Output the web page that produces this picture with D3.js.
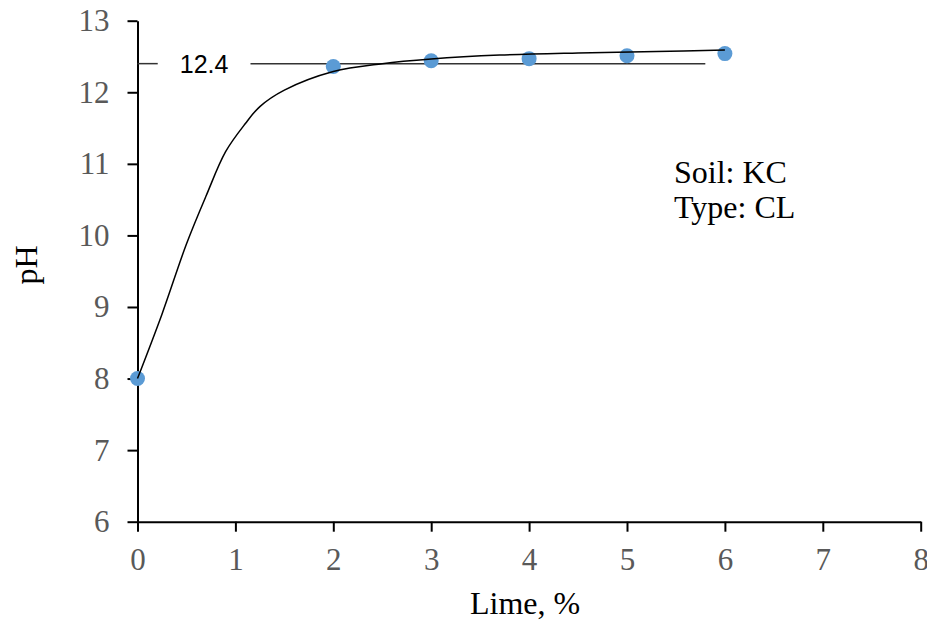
<!DOCTYPE html>
<html>
<head>
<meta charset="utf-8">
<script src="https://cdn.jsdelivr.net/npm/d3@7"></script>
<style>
  body { margin: 0; background: #fff; }
  .axis path, .axis line { stroke: #000; stroke-width: 2; }
  .axis text { font-family: "Liberation Serif", "Times New Roman", serif; font-size: 31px; fill: #595959; }
  .title { font-family: "Liberation Serif", "Times New Roman", serif; font-size: 32px; fill: #000; }
</style>
</head>
<body>
<svg class="svg-chart" width="927" height="628"></svg>
<script>
// measured points: lime content (%) vs pH
const limeContent = [0, 2, 3, 4, 5, 6];
const phValues = [8.0, 12.36, 12.44, 12.47, 12.51, 12.54];

// fitted trend curve
const trendLime = [0, 0.25, 0.5, 0.7, 0.9, 1.1, 1.25, 1.5, 2, 2.5, 3, 3.7, 4.5, 5.3, 6];
const trendPh = [8.0, 8.9, 9.88, 10.55, 11.17, 11.56, 11.8, 12.03, 12.29, 12.4, 12.465, 12.52, 12.55, 12.57, 12.59];

// reference (plateau) line
const plateauValue = 12.4;
const plateauRange = [0, 5.8];
const plateauLabel = '12.4';

const xTicks = [0, 1, 2, 3, 4, 5, 6, 7, 8];
const yTicks = [6, 7, 8, 9, 10, 11, 12, 13];
const soilNotes = ['Soil: KC', 'Type: CL'];

const svg = d3.select('.svg-chart');
const margin = { top: 20.7, right: 6.3, bottom: 106.3, left: 137.5 };
const width = +svg.attr('width') - margin.left - margin.right;
const height = +svg.attr('height') - margin.top - margin.bottom;

const x = d3.scaleLinear().domain([0, 8]).range([0, width]);
const y = d3.scaleLinear().domain([6, 13]).range([height, 0]);

const g = svg.append('g')
  .attr('transform', 'translate(' + margin.left + ',' + margin.top + ')');

g.append('g')
  .attr('class', 'axis axis--x')
  .attr('transform', 'translate(0,' + height + ')')
  .call(d3.axisBottom(x).tickValues(xTicks).tickFormat(d3.format('d'))
    .tickSize(10).tickSizeOuter(0).tickPadding(16));

g.append('g')
  .attr('class', 'axis axis--y')
  .call(d3.axisLeft(y).tickValues(yTicks).tickFormat(d3.format('d'))
    .tickSize(10).tickSizeOuter(0).tickPadding(18));

// plateau line with its label in a gap
const label = g.append('text')
  .attr('x', x(0.68))
  .attr('y', y(plateauValue))
  .attr('dy', '0.36em')
  .attr('text-anchor', 'middle')
  .style('font-family', '"Liberation Sans", Arial, sans-serif')
  .style('font-size', '25px')
  .style('fill', '#000')
  .text(plateauLabel);

const bb = label.node().getBBox();
const gapPad = 22;
[[x(plateauRange[0]), bb.x - gapPad], [bb.x + bb.width + gapPad, x(plateauRange[1])]].forEach(seg => {
  g.append('line')
    .attr('x1', seg[0]).attr('x2', seg[1])
    .attr('y1', y(plateauValue)).attr('y2', y(plateauValue))
    .attr('stroke', '#333')
    .attr('stroke-width', 1.5);
});

// markers
g.selectAll('.dot')
  .data(limeContent.map((d, i) => [d, phValues[i]]))
  .enter()
  .append('circle')
  .attr('class', 'dot')
  .attr('cx', d => x(d[0]))
  .attr('cy', d => y(d[1]))
  .attr('r', 7.5)
  .attr('fill', '#5B9BD5');

// trend curve
const trendLine = d3.line()
  .curve(d3.curveCatmullRom.alpha(0.5))
  .x(d => x(d[0]))
  .y(d => y(d[1]));

g.append('path')
  .datum(trendLime.map((d, i) => [d, trendPh[i]]))
  .attr('fill', 'none')
  .attr('stroke', '#000')
  .attr('stroke-width', 1.5)
  .attr('d', trendLine);

// axis titles
svg.append('text')
  .attr('class', 'title')
  .attr('x', margin.left + width / 2 - 4)
  .attr('y', 614)
  .attr('text-anchor', 'middle')
  .text('Lime, %');

svg.append('text')
  .attr('class', 'title')
  .attr('transform', 'translate(37,265) rotate(-90)')
  .attr('text-anchor', 'middle')
  .text('pH');

// soil note
svg.append('text')
  .attr('class', 'title')
  .selectAll('tspan')
  .data(soilNotes)
  .enter()
  .append('tspan')
  .attr('x', 674)
  .attr('y', (d, i) => 183.3 + i * 35)
  .text(d => d);
</script>
</body>
</html>
